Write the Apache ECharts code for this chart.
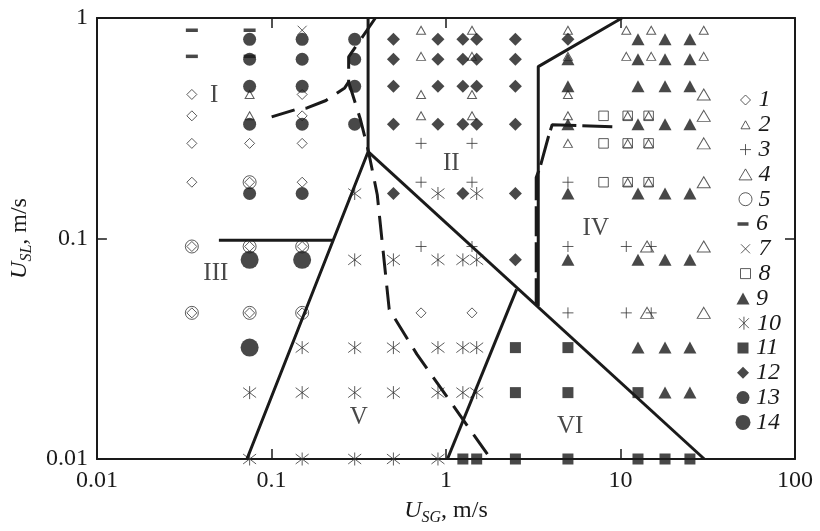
<!DOCTYPE html>
<html><head><meta charset="utf-8">
<script src="https://cdn.jsdelivr.net/npm/echarts@6/dist/echarts.min.js"></script>
<style>html,body{margin:0;padding:0;background:#fff}#c{width:820px;height:531px}</style>
</head><body><div id="c"></div>
<script>
// ---------- data ----------
const xTickLabels = ['0.01', '0.1', '1', '10', '100'];
const yTickLabels = ['0.01', '0.1', '1'];
const legendNames = ['1','2','3','4','5','6','7','8','9','10','11','12','13','14'];

const s1 = [[0.035,0.45],[0.035,0.36],[0.035,0.27],[0.035,0.18],[0.035,0.092],[0.035,0.046],
  [0.075,0.27],[0.075,0.18],[0.075,0.092],[0.075,0.046],
  [0.15,0.45],[0.15,0.36],[0.15,0.27],[0.15,0.18],[0.15,0.092],[0.15,0.046],
  [0.72,0.046],[1.41,0.046]];
const s2 = [[0.72,0.88],[1.41,0.88],[5,0.88],[10.8,0.88],[15,0.88],[30,0.88],
  [0.72,0.67],[1.41,0.67],[5,0.67],[10.8,0.67],[15,0.67],[30,0.67],
  [0.075,0.45],[0.72,0.45],[1.41,0.45],[5,0.45],
  [0.075,0.36],[0.72,0.36],[1.41,0.36],[5,0.36],[11,0.36],[14.5,0.36],
  [5,0.27],[11,0.27],[14.5,0.27],[11,0.18],[14.5,0.18]];
const s3 = [[0.72,0.27],[1.41,0.27],[0.72,0.18],[1.41,0.18],[5,0.18],
  [0.72,0.092],[1.41,0.092],[5,0.092],[10.8,0.092],[15,0.092],
  [5,0.046],[10.8,0.046],[15,0.046]];
const s4 = [[30,0.45],[30,0.36],[30,0.27],[30,0.18],[14.2,0.092],[30,0.092],[14.2,0.046],[30,0.046]];
const s5 = [[0.035,0.092],[0.075,0.092],[0.15,0.092],[0.035,0.046],[0.075,0.046],[0.15,0.046],[0.075,0.18]];
const s6 = [[0.035,0.88],[0.035,0.67],[0.075,0.88],[0.075,0.67]];
const s7 = [[0.15,0.88]];
const s8 = [[8,0.36],[11,0.36],[14.5,0.36],[8,0.27],[11,0.27],[14.5,0.27],[8,0.18],[11,0.18],[14.5,0.18]];
const s9 = [[12.6,0.8],[18,0.8],[25,0.8],
  [5,0.65],[12.6,0.65],[18,0.65],[25,0.65],
  [5,0.49],[12.6,0.49],[18,0.49],[25,0.49],
  [5,0.33],[12.6,0.33],[18,0.33],[25,0.33],
  [5,0.16],[12.6,0.16],[18,0.16],[25,0.16],
  [5,0.08],[12.6,0.08],[18,0.08],[25,0.08],
  [12.6,0.032],[18,0.032],[25,0.032],[18,0.02],[25,0.02]];
const s10 = [[0.3,0.16],[0.9,0.16],[1.5,0.16],
  [0.3,0.08],[0.5,0.08],[0.9,0.08],[1.25,0.08],[1.5,0.08],
  [0.15,0.032],[0.3,0.032],[0.5,0.032],[0.9,0.032],[1.25,0.032],[1.5,0.032],
  [0.075,0.02],[0.15,0.02],[0.3,0.02],[0.5,0.02],[0.9,0.02],[1.25,0.02],[1.5,0.02],
  [0.075,0.01],[0.15,0.01],[0.3,0.01],[0.5,0.01],[0.9,0.01]];
const s11 = [[2.5,0.032],[5,0.032],[2.5,0.02],[5,0.02],[12.6,0.02],
  [1.25,0.01],[1.5,0.01],[2.5,0.01],[5,0.01],[12.6,0.01],[18,0.01],[25,0.01]];
const s12 = [[0.5,0.8],[0.9,0.8],[1.25,0.8],[1.5,0.8],[2.5,0.8],[5,0.8],
  [0.5,0.65],[0.9,0.65],[1.25,0.65],[1.5,0.65],[2.5,0.65],
  [0.5,0.49],[0.9,0.49],[1.25,0.49],[1.5,0.49],[2.5,0.49],
  [0.5,0.33],[0.9,0.33],[1.25,0.33],[1.5,0.33],[2.5,0.33],
  [0.5,0.16],[1.25,0.16],[2.5,0.16],[2.5,0.08]];
const s13 = [[0.075,0.8],[0.15,0.8],[0.3,0.8],[0.075,0.65],[0.15,0.65],[0.3,0.65],
  [0.075,0.49],[0.15,0.49],[0.3,0.49],[0.075,0.33],[0.15,0.33],[0.3,0.33],
  [0.075,0.16],[0.15,0.16]];
const s14 = [[0.075,0.08],[0.15,0.08],[0.075,0.032]];

// boundary lines
const solidA = [[0.0724,0.01],[0.358,0.2476],[0.358,1]];
const solidB = [[0.358,0.2476],[30.2,0.01]];
const solidC = [[1.02,0.01],[2.54,0.0588]];
const solidD = [[3.38,0.0494],[3.38,0.602],[10.2,1]];
const solidE = [[0.05,0.0982],[0.224,0.0982]];
const dashMain = [[0.394,1],[0.277,0.666],[0.277,0.513],[0.324,0.3455],[0.36,0.2476],[0.404,0.158],[0.473,0.0477],[0.681,0.0299],[1.76,0.0103]];
const dashI = [[0.1003,0.356],[0.137,0.384],[0.16,0.391],[0.2054,0.4225],[0.263,0.482],[0.277,0.513]];
const dashIV = [[8.98,0.3213],[4.06,0.328],[3.85,0.2864],[3.47,0.2118],[3.29,0.189],[3.29,0.0503]];

const regionLabels = [[0.047,0.444,'I'],[1.074,0.2185,'II'],[0.048,0.0695,'III'],[7.22,0.1106,'IV'],[0.317,0.01544,'V'],[5.15,0.01406,'VI']];

// ---------- presentation ----------
const FONT = 'Liberation Serif';
const INK = '#1a1a1a';
const OPEN = '#333';
const PLUS = 'path://M5,0L5,10M0,5L10,5';
const CROSS = 'path://M0,0L10,10M10,0L0,10';
const STAR = 'path://M1.2,1.2L8.8,8.8M8.8,1.2L1.2,8.8M5,0L5,10';

const seriesData = [s1,s2,s3,s4,s5,s6,s7,s8,s9,s10,s11,s12,s13,s14];
const markerStyle = [
  {symbol:'diamond', size:[10,10], open:true, leg:[10,10]},
  {symbol:'triangle', size:[9,8], open:true, leg:[9,8]},
  {symbol:PLUS, size:[11,11], open:true, leg:[11,11]},
  {symbol:'triangle', size:[13,11], open:true, leg:[13,11]},
  {symbol:'circle', size:[13,13], open:true, leg:[13,13]},
  {symbol:'rect', size:[12,3.5], open:false, leg:[11,3.5]},
  {symbol:CROSS, size:[9,9], open:true, leg:[9,9]},
  {symbol:'rect', size:[9.5,9.5], open:true, leg:[10,10]},
  {symbol:'triangle', size:[13,12], open:false, leg:[13,12]},
  {symbol:STAR, size:[13,13], open:true, leg:[13,13]},
  {symbol:'rect', size:[11,11], open:false, leg:[11,11]},
  {symbol:'diamond', size:[13,13], open:false, leg:[12,12]},
  {symbol:'circle', size:[13,13], open:false, leg:[13,13]},
  {symbol:'circle', size:[18,18], open:false, leg:[15,15]}
];

const series = [];
legendNames.forEach((n, i) => {
  const m = markerStyle[i];
  series.push({
    name: n, type: 'scatter', data: seriesData[i],
    symbol: m.symbol, symbolSize: m.size, z: 3,
    itemStyle: m.open ? {color: 'none', borderColor: OPEN, borderWidth: 1}
                      : {color: INK, borderWidth: 0},
    silent: true
  });
});
function lineSeries(data, type) {
  return {type:'line', data, symbol:'none', showSymbol:false, silent:true, z:5,
    lineStyle:{color: INK, width: 3, type: type, cap:'butt'}};
}
[solidA, solidB, solidC, solidD, solidE].forEach(d => series.push(lineSeries(d, 'solid')));
series.push(lineSeries(dashMain, [24, 11]));
series.push(lineSeries(dashI, [24, 11]));
series.push(lineSeries(dashIV, [30, 6]));
series.push({
  type:'scatter', data: regionLabels, symbolSize: 0, silent:true, z: 6,
  label:{show:true, position:'inside', formatter: p => p.data[2],
    fontFamily: FONT, fontSize: 25, color: INK}
});

const legends = legendNames.map((n, i) => {
  const m = markerStyle[i];
  const w = m.leg[0], h = m.leg[1];
  const yc = 100 + i * 24.8;
  return {
    data: [n], orient: 'vertical', left: 743 - w / 2, top: yc - 12,
    padding: 0, itemWidth: w, itemHeight: h, selectedMode: false,
    itemStyle: m.open ? {borderWidth: 1} : {},
    textStyle: {fontFamily: FONT, fontStyle: 'italic', fontSize: 24, lineHeight: 24,
      color: INK, padding: [0, 0, 0, Math.max(0, 8 - w / 2)]}
  };
});

const nameRich = {
  i: {fontFamily: FONT, fontStyle: 'italic', fontSize: 24, lineHeight: 24, verticalAlign: 'top', color: INK},
  s: {fontFamily: FONT, fontStyle: 'italic', fontSize: 16, lineHeight: 16, verticalAlign: 'top', padding: [11, 0, 0, 0], color: INK},
  r: {fontFamily: FONT, fontSize: 24, lineHeight: 24, verticalAlign: 'top', color: INK}
};
const axisLineStyle = {lineStyle: {color: INK, width: 2}};
const tickStyle = {show: true, inside: true, length: 10, lineStyle: {color: INK, width: 1.5}};
const labelStyle = {fontFamily: FONT, fontSize: 24, color: INK};

const option = {
  animation: false,
  backgroundColor: '#fff',
  grid: {left: 88, right: 25, top: 18, bottom: 71},
  legend: legends,
  xAxis: [
    {type: 'log', logBase: 10, min: 0.01, max: 100, position: 'bottom',
     axisLine: axisLineStyle, axisTick: tickStyle, splitLine: {show: false}, minorTick: {show: false},
     axisLabel: Object.assign({margin: 10, formatter: v => xTickLabels[Math.round(Math.log10(v)) + 2]}, labelStyle),
     name: '{i|U}{s|SG}{r|, m/s}', nameLocation: 'middle', nameGap: 40,
     nameTextStyle: {rich: nameRich}},
    {type: 'log', logBase: 10, min: 0.01, max: 100, position: 'top',
     axisLine: axisLineStyle, axisTick: tickStyle, splitLine: {show: false}, axisLabel: {show: false}}
  ],
  yAxis: [
    {type: 'log', logBase: 10, min: 0.01, max: 1, position: 'left',
     axisLine: axisLineStyle, axisTick: tickStyle, splitLine: {show: false}, minorTick: {show: false},
     axisLabel: Object.assign({margin: 9, formatter: v => yTickLabels[Math.round(Math.log10(v)) + 2]}, labelStyle),
     name: '{i|U}{s|SL}{r|, m/s}', nameLocation: 'middle', nameGap: 50,
     nameTextStyle: {rich: nameRich}},
    {type: 'log', logBase: 10, min: 0.01, max: 1, position: 'right',
     axisLine: axisLineStyle, axisTick: tickStyle, splitLine: {show: false}, axisLabel: {show: false}}
  ],
  series: series
};
const chart = echarts.init(document.getElementById('c'), null, {renderer: 'canvas'});
chart.setOption(option);
</script></body></html>
